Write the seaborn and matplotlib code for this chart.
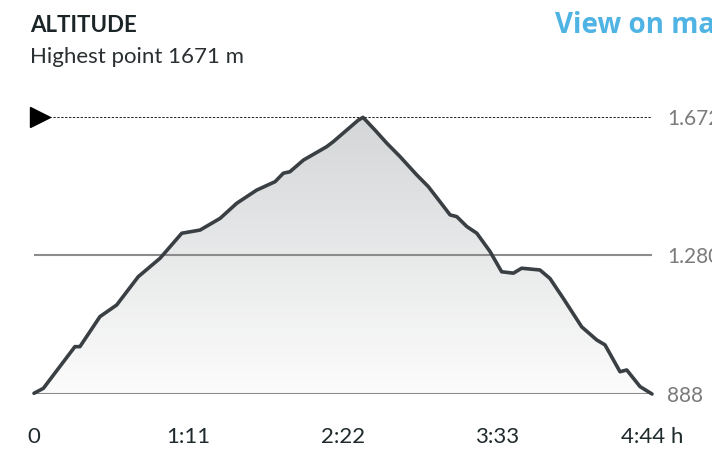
import matplotlib
matplotlib.use("Agg")
import matplotlib.pyplot as plt
import matplotlib.transforms as mtransforms
from matplotlib.patches import PathPatch
import numpy as np
import pandas as pd
import seaborn as sns

# elapsed time (minutes) and altitude (m)
minutes = [0, 4.3, 18.8, 21.1, 30.3, 38.0, 47.9, 57.9, 67.9, 76.3, 85.5, 93.2,
           102.3, 110.8, 114.6, 117.6, 123.8, 134.5, 137.5, 149.0, 151.2,
           156.7, 162.1, 168.2, 175.9, 181.2, 186.6, 191.2, 194.3, 198.9,
           203.5, 209.6, 214.9, 220.3, 224.1, 232.5, 237.1, 243.2, 251.7,
           258.6, 262.4, 269.3, 272.4, 278.5, 284]
altitude = [890, 904, 1022, 1022, 1107, 1140, 1220, 1272, 1343, 1352, 1385, 1428,
            1465, 1489, 1513, 1517, 1550, 1588, 1602, 1663, 1671,
            1635, 1598, 1560, 1508, 1475, 1432, 1395, 1390, 1362,
            1343, 1291, 1234, 1230, 1244, 1239, 1215, 1159, 1078,
            1041, 1027, 951, 956, 909, 888]

x_ticks = [0, 71, 142, 213, 284]
x_labels = ["0", "1:11", "2:22", "3:33", "4:44 h"]
y_ticks = [888, 1280, 1672]
y_labels = ["888", "1.280", "1.672"]

df = pd.DataFrame({"minutes": minutes, "altitude": altitude})

sns.set_theme(style="white")
plt.rcParams["font.family"] = ["Lato", "DejaVu Sans"]

fig = plt.figure(figsize=(7.12, 4.54), dpi=100)
ax = fig.add_axes([34 / 712, 60 / 454, 618 / 712, 277 / 454])

# gradient fill under the profile
poly = ax.fill_between(df["minutes"], df["altitude"], y_ticks[0], alpha=0)
clip = PathPatch(poly.get_paths()[0], transform=ax.transData, facecolor="none", edgecolor="none")
ax.add_patch(clip)
grad = np.linspace(0, 1, 256).reshape(-1, 1)
im = ax.imshow(grad, cmap=matplotlib.colors.LinearSegmentedColormap.from_list("g", ["#d4d6d7", "#fcfcfc"]),
               extent=[x_ticks[0], x_ticks[-1], y_ticks[0], max(altitude)],
               origin="upper", aspect="auto", zorder=1)
im.set_clip_path(clip)

# reference lines
ax.axhline(y_ticks[0], color="#8c8c8c", lw=1.5, zorder=2)
ax.axhline(y_ticks[1], color="#8c8c8c", lw=1.5, zorder=2)
ax.axhline(y_ticks[2], color="#222222", lw=1.4, ls=(0, (1.2, 0.8)), zorder=2)

sns.lineplot(data=df, x="minutes", y="altitude", ax=ax, color="#3a3f43", lw=2.6,
             zorder=3, clip_on=False)

off = mtransforms.offset_copy(ax.transData, fig=fig, x=6, y=0, units="dots")
ax.plot([x_ticks[0]], [y_ticks[2]], marker=">", ms=14, color="black",
        transform=off, clip_on=False, zorder=4)

ax.set_xlim(x_ticks[0], x_ticks[-1])
ax.set_ylim(y_ticks[0], y_ticks[-1])
ax.set_xticks(x_ticks)
ax.set_xticklabels(x_labels, fontsize=16, color="#1f2a2c")
ax.set_yticks(y_ticks)
ax.set_yticklabels(y_labels, fontsize=15, color="#7b7b7b")
ax.yaxis.tick_right()
ax.tick_params(axis="x", length=0, pad=24)
ax.tick_params(axis="y", length=0, pad=11)
ax.set_xlabel("")
ax.set_ylabel("")
for s in ax.spines.values():
    s.set_visible(False)
ax.set_facecolor("none")

fig.text(30 / 712, 1 - 32 / 454, "ALTITUDE", fontsize=16, fontweight="bold", color="#1b2426")
fig.text(30 / 712, 1 - 63 / 454, "Highest point 1671 m", fontsize=16, color="#2a2f31")
fig.text(555 / 712, 1 - 33 / 454, "View on map", fontsize=20, fontweight="bold",
         color="#4fb3e3", family=["Open Sans", "DejaVu Sans"])

fig.savefig("out.png", dpi=100)
